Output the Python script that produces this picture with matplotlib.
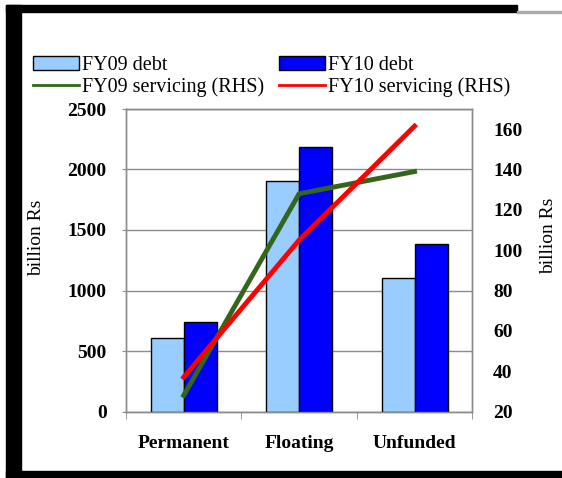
import matplotlib
matplotlib.use("Agg")
import matplotlib.pyplot as plt
from matplotlib.patches import Rectangle, Patch
from matplotlib.lines import Line2D
import numpy as np

plt.rcParams['font.family'] = ['Liberation Serif', 'DejaVu Serif']

# data
categories = ['Permanent', 'Floating', 'Unfunded']
fy09_debt = [605, 1907, 1102]
fy10_debt = [742, 2183, 1384]
fy09_serv = [28, 128, 139]
fy10_serv = [37, 105, 161.5]

left_ticks = [0, 500, 1000, 1500, 2000, 2500]
right_ticks = [20, 40, 60, 80, 100, 120, 140, 160]

light_blue = '#99CCFF'
blue = '#0000FF'
green = '#33661A'
red = '#FF0000'
grey = '#8C8C8C'

W, H = 562, 478
fig = plt.figure(figsize=(W / 100, H / 100), dpi=100)

# black frame of the scanned picture
def px_rect(x0, y0, x1, y1, color='black'):
    fig.patches.append(Rectangle((x0 / W, 1 - y1 / H), (x1 - x0) / W, (y1 - y0) / H,
                                 transform=fig.transFigure, color=color, zorder=-1))

px_rect(6, 5, 21, H)
px_rect(6, 5, 517, 12)
px_rect(517, 11, W, 12.5, color='#AAAAAA')
px_rect(6, 471, W, H)

ax = fig.add_axes([126 / W, 1 - 411.5 / H, (472.3 - 126) / W, (411.5 - 109) / H])
ax2 = ax.twinx()

x = np.arange(len(categories))
w = 1 / 3.5
b1 = ax.bar(x - w / 2, fy09_debt, w, color=light_blue, edgecolor='black', linewidth=1, zorder=3)
b2 = ax.bar(x + w / 2, fy10_debt, w, color=blue, edgecolor='black', linewidth=1, zorder=3)

ax.set_ylim(0, 2500)
ax.set_yticks(left_ticks)
ax.set_xlim(-0.5, 2.5)
ax.set_xticks(x)
ax.set_xticklabels(categories, fontsize=14, fontweight='bold')
ax.set_xticks([-0.5, 0.5, 1.5, 2.5], minor=True)
ax.tick_params(axis='x', which='major', length=0, pad=17)
ax.tick_params(axis='x', which='minor', length=5, color=grey, direction='out')
ax.tick_params(axis='y', length=3, color=grey, pad=11, labelsize=14)
for lab in ax.get_yticklabels():
    lab.set_fontweight('bold')
ax.yaxis.grid(True, color=grey, linewidth=1)
ax.set_axisbelow(True)

ax2.plot(x, fy09_serv, color=green, linewidth=3.5, zorder=4)
ax2.plot(x, fy10_serv, color=red, linewidth=3.5, zorder=5)
ax2.set_ylim(20, 170)
ax2.set_yticks(right_ticks)
ax2.tick_params(axis='y', length=0, pad=15, labelsize=14)
for lab in ax2.get_yticklabels():
    lab.set_fontweight('bold')

for a in (ax, ax2):
    for s in a.spines.values():
        s.set_color(grey)
        s.set_linewidth(1)

fig.text(37 / W, 1 - 238 / H, 'billion Rs', rotation=90, ha='center', va='center', fontsize=14)
fig.text(549 / W, 1 - 236 / H, 'billion Rs', rotation=90, ha='center', va='center', fontsize=14)

handles = [Patch(facecolor=light_blue, edgecolor='black', linewidth=1),
           Line2D([], [], color=green, linewidth=2),
           Patch(facecolor=blue, edgecolor='black', linewidth=1),
           Line2D([], [], color=red, linewidth=2)]
labels = ['FY09 debt', 'FY09 servicing (RHS)', 'FY10 debt', 'FY10 servicing (RHS)']
fig.legend(handles, labels, ncol=2, loc='upper left',
           bbox_to_anchor=(33 / W, 1 - 56 / H), frameon=False, fontsize=14.5,
           handlelength=2.3, handleheight=0.7, handletextpad=0.15,
           columnspacing=0.7, labelspacing=0.12, borderpad=0, borderaxespad=0)

fig.savefig('out.png', dpi=100)
